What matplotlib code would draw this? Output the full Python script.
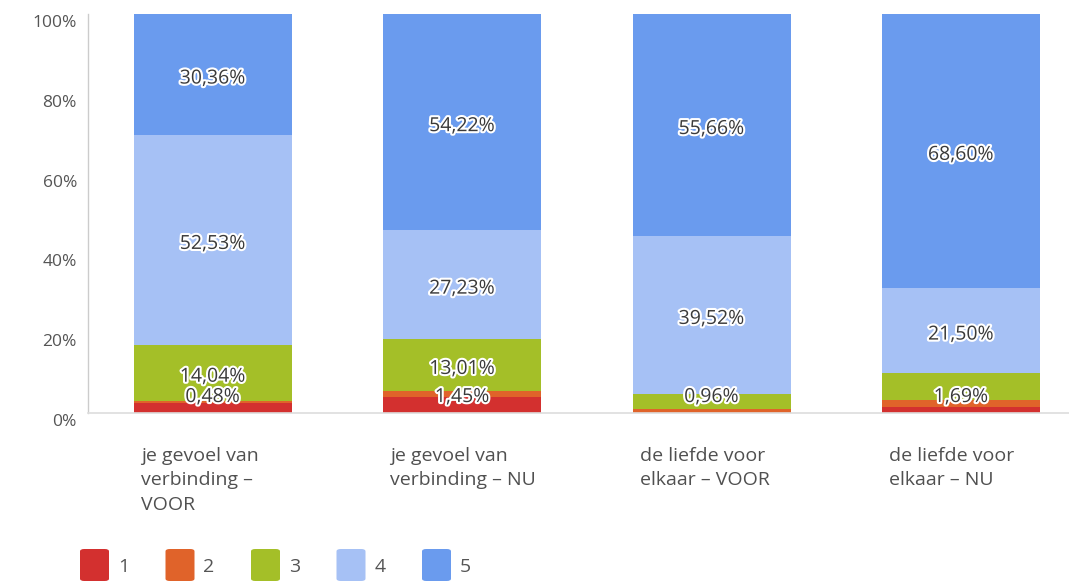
import matplotlib
matplotlib.use("Agg")
import matplotlib.pyplot as plt
import matplotlib.patheffects as pe
import matplotlib.transforms as mtrans
from matplotlib.patches import FancyBboxPatch
import numpy as np

plt.rcParams['font.family'] = ['Open Sans', 'DejaVu Sans']

categories = ["je gevoel van\nverbinding –\nVOOR", "je gevoel van\nverbinding – NU",
              "de liefde voor\nelkaar – VOOR", "de liefde voor\nelkaar – NU"]
series_names = ["1", "2", "3", "4", "5"]
s1 = [2.59, 4.09, 0.00, 1.50]
s2 = [0.48, 1.45, 0.96, 1.69]
s3 = [14.04, 13.01, 3.86, 6.71]
s4 = [52.53, 27.23, 39.52, 21.50]
s5 = [30.36, 54.22, 55.66, 68.60]
# which segments carry a visible value label
show1 = [False, False, False, False]
show2 = [True, True, True, True]
show3 = [True, True, False, False]
show4 = [True, True, True, True]
show5 = [True, True, True, True]
colors = ["#d3302f", "#e0632a", "#a4bf28", "#a6c1f5", "#6a9bee"]
yticks = [0, 20, 40, 60, 80, 100]

W, H = 1069, 583
fig = plt.figure(figsize=(W / 100, H / 100), dpi=100)
ax = fig.add_axes([88 / W, 170 / H, (W - 88) / W, 399 / H])

series = [s1, s2, s3, s4, s5]
shows = [show1, show2, show3, show4, show5]
x = np.arange(len(categories))
bw = 0.633
bottom = np.zeros(len(categories))
label_pos = [[] for _ in categories]
for vals, col, shw in zip(series, colors, shows):
    vals = np.array(vals)
    ax.bar(x, vals, bw, bottom=bottom, color=col, edgecolor='none', zorder=2)
    for i in range(len(categories)):
        if shw[i] and vals[i] > 0:
            c = bottom[i] + vals[i] / 2
            label_pos[i].append((max(c, 5.0), vals[i]))
    bottom += vals

for i, labs in enumerate(label_pos):
    for yv, v in labs:
        t = ax.text(x[i], yv - 1.0, f"{v:.2f}%".replace('.', ','), ha='center', va='center',
                    fontsize=14, color='#3a3a3a', zorder=5)
        t.set_path_effects([pe.withStroke(linewidth=3, foreground='white')])

ax.set_xlim(-0.5, (W - 212.5) / 249.5)
ax.set_ylim(0, 100)
ax.set_yticks(yticks)
ax.set_yticklabels([f"{v}%" for v in yticks], fontsize=12.5, color='#555555')
ax.tick_params(axis='y', length=0, pad=8)
ax.tick_params(axis='x', length=0)
ax.set_xticks([])
for lab in ax.get_yticklabels():
    lab.set_transform(lab.get_transform() + mtrans.ScaledTranslation(0, -7 / 100, fig.dpi_scale_trans))
for s in ['top', 'right']:
    ax.spines[s].set_visible(False)
ax.spines['left'].set_color('#cccccc')
ax.spines['bottom'].set_color('#dddddd')
ax.spines['left'].set_linewidth(1)
ax.spines['bottom'].set_linewidth(1.2)

for i, cat in enumerate(categories):
    ax.text(x[i] - bw / 2 + 0.028, -8.5, cat, ha='left', va='top', multialignment='left',
            fontsize=14, color='#505050', linespacing=1.45, transform=ax.transData,
            clip_on=False)

# legend
for k, (name, col) in enumerate(zip(series_names, colors)):
    x0 = 80 + k * 85.5
    p = FancyBboxPatch((x0 / W, (H - 581) / H), 29 / W, 32 / H,
                       boxstyle="round,pad=0,rounding_size=0.004",
                       transform=fig.transFigure, facecolor=col, edgecolor='none')
    fig.patches.append(p)
    fig.text((x0 + 38) / W, (H - 567) / H, name, ha='left', va='center',
             fontsize=14, color='#555555')

fig.savefig("out.png", dpi=100)
